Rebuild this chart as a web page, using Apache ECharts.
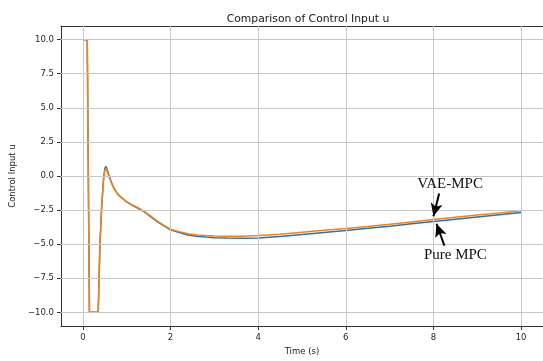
<!DOCTYPE html>
<html>
<head>
<meta charset="utf-8">
<script src="https://cdn.jsdelivr.net/npm/echarts@6/dist/echarts.min.js"></script>
<style>
  html, body { margin: 0; padding: 0; background: #fff; }
</style>
</head>
<body>
<div id="chart" style="width:543px;height:361px"></div>
<script>
// time stamps (s)
const timeS = [0, 0.1, 0.15, 0.35, 0.37, 0.39, 0.43, 0.47, 0.5, 0.53, 0.58, 0.65, 0.72, 0.8, 0.9, 1.0, 1.1, 1.25, 1.4, 1.55, 1.7, 1.85, 2.0, 2.2, 2.4, 2.6, 2.8, 3.0, 3.3, 3.6, 4.0, 4.5, 5.0, 5.5, 6.0, 6.5, 7.0, 7.5, 8.0, 8.5, 9.0, 9.5, 10.0]
// Pure MPC control input
const pureMpc = [10, 10, -10, -10, -7.5, -5, -2.2, -0.3, 0.55, 0.7, 0.2, -0.45, -0.95, -1.35, -1.65, -1.9, -2.1, -2.35, -2.62, -3.0, -3.35, -3.65, -3.95, -4.15, -4.32, -4.42, -4.48, -4.52, -4.55, -4.56, -4.54, -4.43, -4.29, -4.14, -3.99, -3.84, -3.68, -3.51, -3.34, -3.17, -3.0, -2.84, -2.68]
// VAE-MPC control input
const vaeMpc = [10, 10, -10, -10, -7.5, -5, -2.25, -0.35, 0.4, 0.55, 0.1, -0.5, -0.98, -1.35, -1.62, -1.88, -2.08, -2.3, -2.6, -2.95, -3.3, -3.62, -3.9, -4.08, -4.24, -4.32, -4.37, -4.4, -4.42, -4.41, -4.37, -4.27, -4.13, -3.98, -3.85, -3.7, -3.54, -3.37, -3.19, -3.02, -2.86, -2.71, -2.55]
const xTicks = [0, 2, 4, 6, 8, 10]
const yTicks = [-10, -7.5, -5, -2.5, 0, 2.5, 5, 7.5, 10]

const minus = s => String(s).replace('-', '\u2212')
const font = 'DejaVu Sans'

const chart = echarts.init(document.getElementById('chart'))

const gridLines = []
xTicks.forEach(v => gridLines.push({ xAxis: v }))
yTicks.forEach(v => gridLines.push({ yAxis: v }))

const option = {
  animation: false,
  title: {
    text: 'Comparison of Control Input u',
    left: 303,
    top: 9,
    textAlign: 'center',
    textStyle: { fontFamily: font, fontSize: 10.8, fontWeight: 'normal', color: '#1a1a1a' }
  },
  grid: { left: 59, top: 26, width: 489.5, height: 303 },
  xAxis: [{
    type: 'value',
    min: -0.5,
    max: 10.5,
    name: 'Time (s)',
    nameLocation: 'middle',
    nameGap: 21,
    nameTextStyle: { fontFamily: font, fontSize: 8.5, color: '#1a1a1a' },
    axisLine: { show: true, onZero: false, lineStyle: { color: '#333', width: 1 } },
    axisTick: { show: true, length: 4, customValues: xTicks, lineStyle: { color: '#333' } },
    axisLabel: { customValues: xTicks, margin: 7, fontFamily: font, fontSize: 8.5, color: '#262626', formatter: v => minus(v) },
    splitLine: { show: false }
  }, {
    type: 'value',
    position: 'top',
    min: -0.5,
    max: 10.5,
    axisLine: { show: true, onZero: false, lineStyle: { color: '#333', width: 1 } },
    axisTick: { show: false },
    axisLabel: { show: false },
    splitLine: { show: false }
  }],
  yAxis: {
    type: 'value',
    min: -11,
    max: 11,
    name: 'Control Input u',
    nameLocation: 'middle',
    nameGap: 34,
    nameRotate: 90,
    nameTextStyle: { fontFamily: font, fontSize: 8.5, color: '#1a1a1a' },
    axisLine: { show: true, onZero: false, lineStyle: { color: '#333', width: 1 } },
    axisTick: { show: true, length: 4, customValues: yTicks, lineStyle: { color: '#333' } },
    axisLabel: { customValues: yTicks, margin: 7, fontFamily: font, fontSize: 8.5, color: '#262626', formatter: v => minus(v.toFixed(1)) },
    splitLine: { show: false }
  },
  series: [
    {
      name: 'grid',
      type: 'line',
      data: [],
      z: 1,
      silent: true,
      markLine: {
        silent: true,
        symbol: ['none', 'none'],
        label: { show: false },
        lineStyle: { color: '#c8c8c8', width: 1, type: 'solid' },
        data: gridLines
      }
    },
    {
      name: 'Pure MPC',
      type: 'line',
      data: timeS.map((t, i) => [t, pureMpc[i]]),
      showSymbol: false,
      z: 3,
      lineStyle: { color: '#1f77b4', width: 1.5 },
      itemStyle: { color: '#1f77b4' }
    },
    {
      name: 'VAE-MPC',
      type: 'line',
      data: timeS.map((t, i) => [t, vaeMpc[i]]),
      showSymbol: false,
      z: 4,
      lineStyle: { color: '#ff7f0e', width: 1.5 },
      itemStyle: { color: '#ff7f0e' },
      markLine: {
        silent: true,
        symbol: ['none', 'arrow'],
        symbolSize: [9, 13],
        label: { show: false },
        lineStyle: { color: '#000', width: 2, type: 'solid' },
        data: [
          [{ coord: [8.13, -1.29] }, { coord: [8.0, -2.95] }],
          [{ coord: [8.25, -5.1] }, { coord: [8.07, -3.5] }]
        ]
      },
      markPoint: {
        silent: true,
        symbol: 'rect',
        symbolSize: 1,
        itemStyle: { color: 'rgba(0,0,0,0)' },
        label: { show: true, position: 'inside', fontFamily: 'Liberation Serif', fontSize: 15, color: '#111' },
        data: [
          { coord: [8.38, -0.56], value: 'VAE-MPC', label: { formatter: 'VAE-MPC' } },
          { coord: [8.5, -5.78], value: 'Pure MPC', label: { formatter: 'Pure MPC' } }
        ]
      }
    }
  ]
}

chart.setOption(option)
</script>
</body>
</html>
